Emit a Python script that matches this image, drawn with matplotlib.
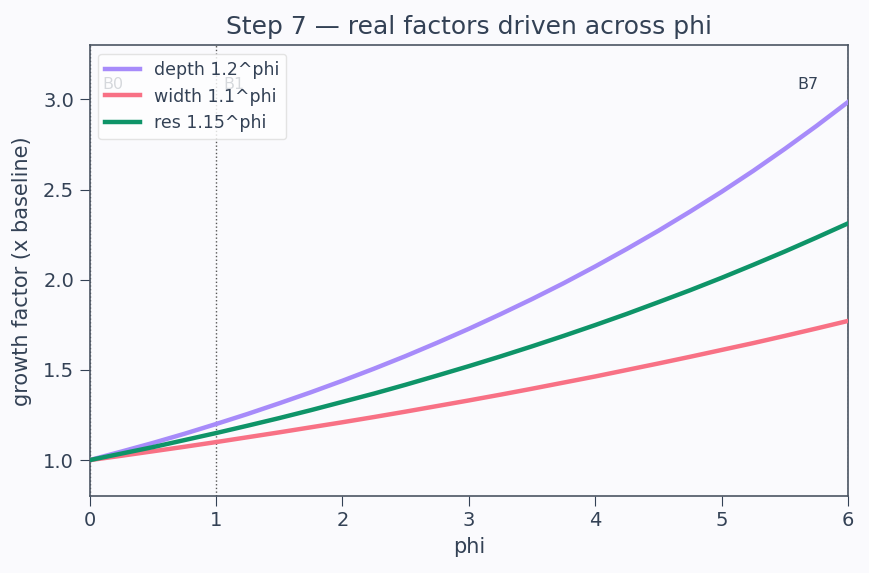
import matplotlib
matplotlib.use("Agg")
import matplotlib.pyplot as plt

phi = [0.0, 0.25, 0.5, 0.75, 1.0, 1.25, 1.5, 1.75, 2.0, 2.25, 2.5, 2.75, 3.0,
       3.25, 3.5, 3.75, 4.0, 4.25, 4.5, 4.75, 5.0, 5.25, 5.5, 5.75, 6.0]
depth = [1.000, 1.047, 1.095, 1.146, 1.200, 1.256, 1.315, 1.376, 1.440, 1.507, 1.577, 1.651, 1.728,
         1.809, 1.893, 1.981, 2.074, 2.171, 2.272, 2.378, 2.488, 2.604, 2.726, 2.853, 2.986]
width = [1.000, 1.024, 1.049, 1.074, 1.100, 1.127, 1.154, 1.182, 1.210, 1.239, 1.269, 1.300, 1.331,
         1.363, 1.396, 1.430, 1.464, 1.500, 1.536, 1.573, 1.611, 1.649, 1.689, 1.730, 1.772]
res = [1.000, 1.036, 1.072, 1.111, 1.150, 1.191, 1.233, 1.277, 1.323, 1.369, 1.418, 1.469, 1.521,
       1.575, 1.631, 1.689, 1.749, 1.811, 1.876, 1.942, 2.011, 2.083, 2.157, 2.234, 2.313]
labels = ["depth 1.2^phi", "width 1.1^phi", "res 1.15^phi"]
markers_x = [0, 1, 6]
markers_lbl = ["B0", "B1", "B7"]

text_c = "#334155"
bg = "#fafafd"
plt.rcParams["font.family"] = ["DejaVu Sans"]

fig, ax = plt.subplots(figsize=(8.69, 5.73), dpi=100)
fig.patch.set_facecolor(bg)
ax.set_facecolor(bg)

for xv in markers_x:
    ax.axvline(xv, color="#555555", ls=":", lw=1.0, zorder=1)

ax.plot(phi, depth, color="#a78bfa", lw=3.2, label=labels[0], zorder=3)
ax.plot(phi, width, color="#f87185", lw=3.2, label=labels[1], zorder=3)
ax.plot(phi, res, color="#0e9468", lw=3.2, label=labels[2], zorder=3)

ax.text(0.1, 3.08, markers_lbl[0], color=text_c, fontsize=11.5, ha="left", va="center", zorder=2)
ax.text(1.06, 3.08, markers_lbl[1], color=text_c, fontsize=11.5, ha="left", va="center", zorder=2)
ax.text(5.6, 3.08, markers_lbl[2], color=text_c, fontsize=11.5, ha="left", va="center", zorder=2)

ax.set_xlim(0, 6)
ax.set_ylim(0.8, 3.3)
ax.set_yticks([1.0, 1.5, 2.0, 2.5, 3.0])
ax.set_xticks([0, 1, 2, 3, 4, 5, 6])
ax.set_xlabel("phi", fontsize=15, color=text_c, labelpad=5)
ax.set_ylabel("growth factor (x baseline)", fontsize=15, color=text_c, labelpad=8)
ax.set_title("Step 7 — real factors driven across phi", fontsize=18, color=text_c, pad=8)
ax.tick_params(colors=text_c, labelsize=14, length=7, pad=4)
for s in ax.spines.values():
    s.set_color("#4b5563")
    s.set_linewidth(1.2)

leg = ax.legend(loc="upper left", fontsize=12.5, frameon=True, labelcolor=text_c, framealpha=0.8)
leg.get_frame().set_facecolor("white")
leg.get_frame().set_edgecolor("#dddddd")
leg.set_zorder(5)

fig.subplots_adjust(left=0.103, right=0.976, top=0.921, bottom=0.134)
fig.savefig("out.png", dpi=100, facecolor=bg)
